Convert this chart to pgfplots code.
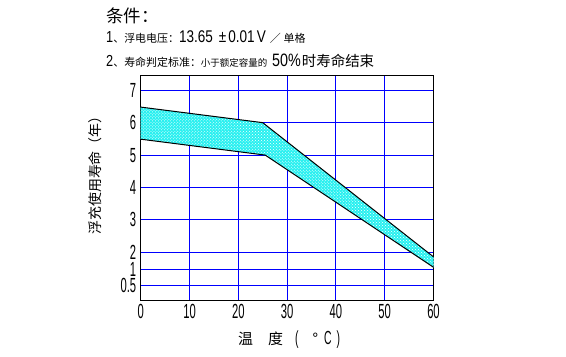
\documentclass[border=0pt]{standalone}
\usepackage{fontspec}
\usepackage{pgfplots}
\pgfplotsset{compat=1.18}
\usetikzlibrary{patterns}
\setmainfont{Liberation Sans}
\newfontfamily\numf[FakeStretch=0.55]{Liberation Sans}
\newfontfamily\numw[FakeStretch=0.8]{Liberation Sans}
\newfontfamily\cjk{Noto Sans CJK SC}
\definecolor{gridblue}{RGB}{0,0,255}
\definecolor{bandcyan}{RGB}{40,240,240}
\begin{document}
\begin{tikzpicture}[x=1bp,y=1bp]
\useasboundingbox (0,0) rectangle (566bp,357bp);
\begin{axis}[
  at={(140.7bp,57bp)}, anchor=south west,
  scale only axis, width=292.8bp, height=225bp,
  xmin=0, xmax=60, ymin=0.53, ymax=7.47,
  xtick={0,10,20,30,40,50,60},
  ytick={0.98,1.485,2,3,4,5,6,7},
  yticklabels={0.5,1,2,3,4,5,6,7},
  major tick length=0pt,
  grid=major,
  major grid style={gridblue, line width=0.9bp},
  axis line style={black, line width=0.9bp},
  /pgf/number format/assume math mode=true,
  ticklabel style={font=\numf\fontsize{20.5}{20.5}\selectfont},
  xticklabel style={yshift=-1bp},
  yticklabel style={xshift=-1bp},
]
\addplot[fill=bandcyan, draw=none] coordinates {(0,6.48) (25,6.0) (60,1.86) (60,1.54) (25.5,5.0) (0,5.49)} -- cycle;
\addplot[pattern=crosshatch dots, pattern color=white, draw=none] coordinates {(0,6.48) (25,6.0) (60,1.86) (60,1.54) (25.5,5.0) (0,5.49)} -- cycle;
\addplot[black, line width=1bp] coordinates {(0,6.48) (25,6.0) (60,1.86)};
\addplot[black, line width=1bp] coordinates {(0,5.49) (25.5,5.0) (60,1.54)};
\end{axis}
\node[anchor=west, inner sep=0pt] at (106bp,341bp) {\cjk\fontsize{17.5}{17.5}\selectfont 条件：};
\node[anchor=west, inner sep=0pt] at (106bp,320bp) {\cjk\fontsize{11}{11}\selectfont {\numw\fontsize{16}{16}\selectfont 1}、浮电电压：{\numw\fontsize{17}{17}\selectfont 13.65\hspace{6bp}±\hspace{2bp}0.01\hspace{2bp}V}\hspace{4bp}／\hspace{3bp}单格};
\node[anchor=west, inner sep=0pt] at (106bp,296bp) {\cjk\fontsize{11}{11}\selectfont {\numw\fontsize{16}{16}\selectfont 2}、寿命判定标准：{\fontsize{9.5}{9.5}\selectfont 小于额定容量的}\hspace{5bp}{\numw\fontsize{18}{18}\selectfont 50\%}{\fontsize{14.5}{14.5}\selectfont\hspace{1bp}时寿命结束}};
\node[rotate=90, inner sep=0pt] at (95bp,185bp) {\cjk\fontsize{14}{14}\selectfont 浮充使用寿命（年）};
\node[anchor=west, inner sep=0pt] at (238bp,17bp) {\cjk\fontsize{15}{15}\selectfont 温\hspace{15bp}度\hspace{12bp}{\numf\fontsize{19}{19}\selectfont (}\hspace{14bp}°\hspace{6bp}{\numf\fontsize{19}{19}\selectfont C}\hspace{5bp}{\numf\fontsize{19}{19}\selectfont )}};
\end{tikzpicture}
\end{document}
